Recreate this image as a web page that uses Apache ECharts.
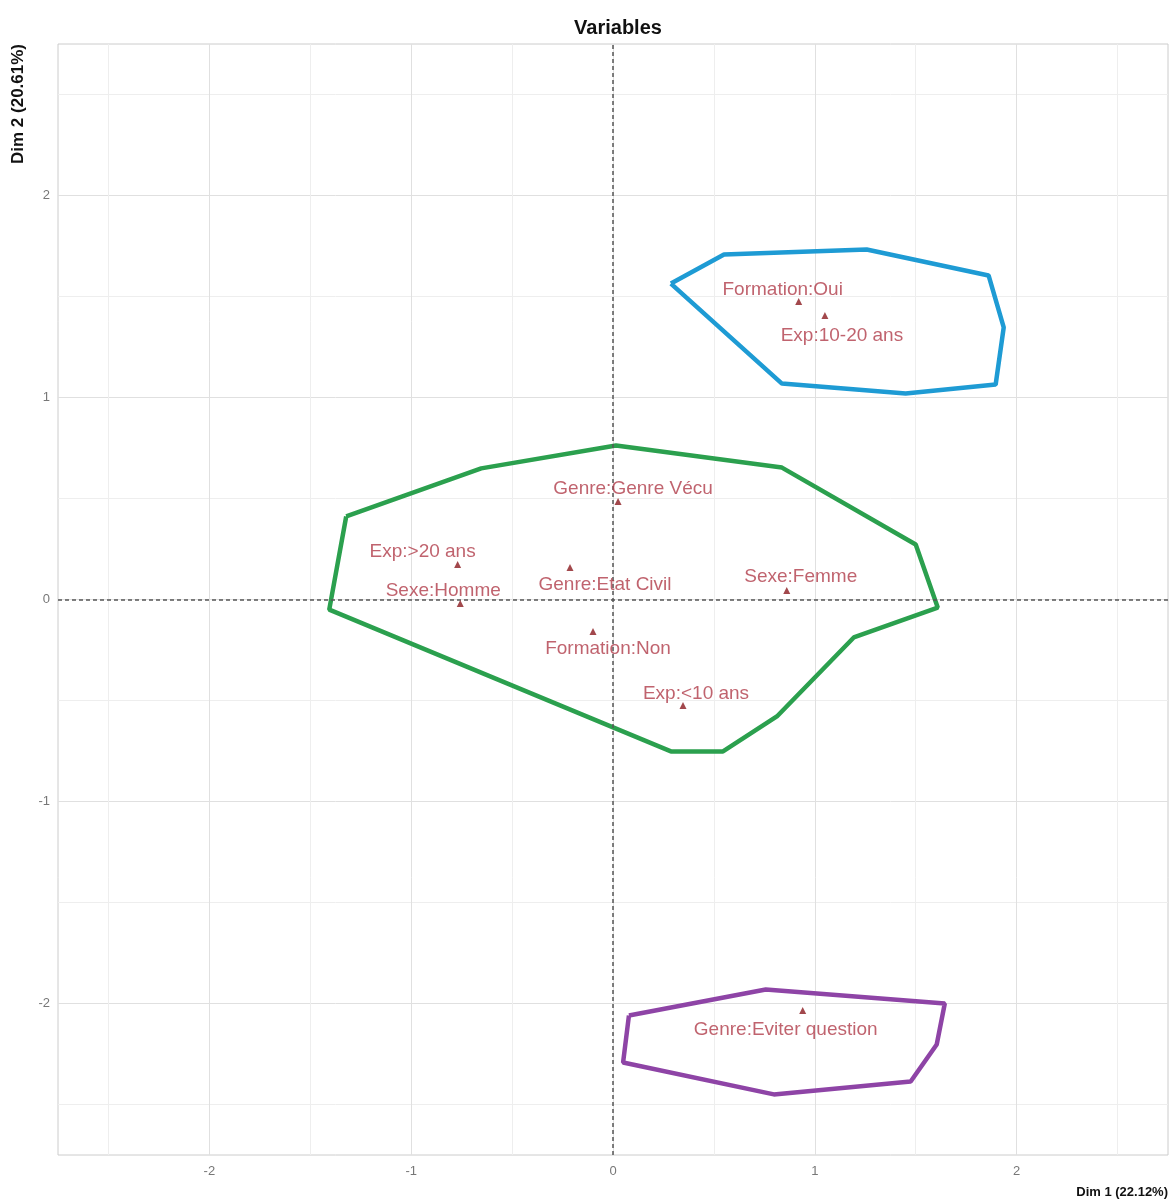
<!DOCTYPE html>
<html>
<head>
<meta charset="utf-8">
<script src="https://cdn.jsdelivr.net/npm/echarts@6/dist/echarts.min.js"></script>
<style>html,body{margin:0;padding:0;background:#fff}#main{width:1172px;height:1204px}</style>
</head>
<body>
<div id="main"></div>
<script>
// modalités (coordonnées)
var labels = ["Formation:Oui","Exp:10-20 ans","Genre:Genre Vécu","Exp:>20 ans","Genre:Etat Civil",
	"Sexe:Homme","Sexe:Femme","Formation:Non","Exp:<10 ans","Genre:Eviter question"]
var dim1 = [0.92, 1.05, 0.025, -0.77, -0.213, -0.757, 0.861, -0.099, 0.347, 0.94]
var dim2 = [1.475, 1.406, 0.485, 0.173, 0.158, -0.02, 0.045, -0.158, -0.525, -2.035]

// enveloppes des groupes
var hullBlue = [[0.287,1.564],[0.55,1.708],[1.257,1.733],[1.861,1.604],[1.936,1.347],[1.896,1.064],[1.45,1.02],[0.837,1.069]]
var hullGreen = [[-1.322,0.411],[-0.653,0.649],[0.015,0.762],[0.837,0.653],[1.5,0.272],[1.609,-0.04],[1.193,-0.188],[0.812,-0.579],[0.545,-0.752],[0.287,-0.752],[-1.406,-0.05]]
var hullPurple = [[0.079,-2.059],[0.757,-1.931],[1.644,-2.0],[1.604,-2.203],[1.475,-2.386],[0.797,-2.45],[0.05,-2.292]]

// décalage des étiquettes (px)
var labelOffset = [[-16,-12],[17,20],[15,-13],[-35,-13],[35,17],[-17,-13],[14,-14],[15,17],[13,-12],[-17,19]]

var font = "'Liberation Sans', Arial, sans-serif"
var points = []
for (var i = 0; i < labels.length; i++) {
	points.push({
		value: [dim1[i], dim2[i]],
		label: {offset: labelOffset[i]}
	})
}

function closed(h){ return h.concat([h[0]]) }
function hull(name, h, color){
	return {
		name: name, type: 'line', data: closed(h), showSymbol: false, symbol: 'none',
		lineStyle: {color: color, width: 4.5}, z: 3, silent: true
	}
}
function intLabel(v){
	var r = Math.round(v * 100) / 100
	return r % 1 === 0 ? String(r) : ''
}
var gridColors = ['rgba(0,0,0,0)', '#eeeeee', 'rgba(0,0,0,0)', '#e0e0e0']

var mychart = echarts.init(document.getElementById('main'))
var option = {
	animation: false,
	backgroundColor: '#fff',
	title: {
		text: 'Variables', left: 613, top: 13, textAlign: 'center',
		textStyle: {fontFamily: font, fontSize: 20, fontWeight: 'bold', color: '#111'}
	},
	grid: {left: 58, right: 4, top: 44, bottom: 49, show: true, borderColor: '#cccccc', borderWidth: 1},
	xAxis: {
		type: 'value', min: -2.75, max: 2.75, interval: 0.25,
		axisLine: {show: false}, axisTick: {show: false},
		axisLabel: {formatter: intLabel, color: '#777', fontSize: 13, fontFamily: font, margin: 10},
		splitLine: {show: true, lineStyle: {color: gridColors, width: 1}}
	},
	yAxis: {
		type: 'value', min: -2.75, max: 2.75, interval: 0.25,
		axisLine: {show: false}, axisTick: {show: false},
		axisLabel: {formatter: intLabel, color: '#777', fontSize: 13, fontFamily: font, margin: 8},
		splitLine: {show: true, lineStyle: {color: gridColors, width: 1}}
	},
	graphic: [
		{type: 'text', right: 4, top: 1186, style: {text: 'Dim 1 (22.12%)', font: 'bold 13px ' + font, fill: '#111'}},
		{type: 'text', x: 18, y: 44, rotation: Math.PI / 2,
			style: {text: 'Dim 2 (20.61%)', font: 'bold 17px ' + font, fill: '#111', align: 'right', verticalAlign: 'middle'}}
	],
	series: [
		hull('g1', hullBlue, '#1e9bd4'),
		hull('g2', hullGreen, '#2ba04e'),
		hull('g3', hullPurple, '#8e44a6'),
		{
			type: 'scatter', data: points, symbol: 'triangle', symbolSize: 7, z: 5,
			itemStyle: {color: '#8b1a1f'},
			label: {
				show: true, position: 'inside',
				formatter: function(p){ return labels[p.dataIndex] },
				color: '#b03c4a', fontSize: 19, fontFamily: font
			},
			markLine: {
				silent: true, symbol: 'none', label: {show: false},
				lineStyle: {type: [4, 3], color: '#555', width: 1.5},
				data: [{xAxis: 0}, {yAxis: 0}]
			}
		}
	]
}
mychart.setOption(option)
</script>
</body>
</html>
